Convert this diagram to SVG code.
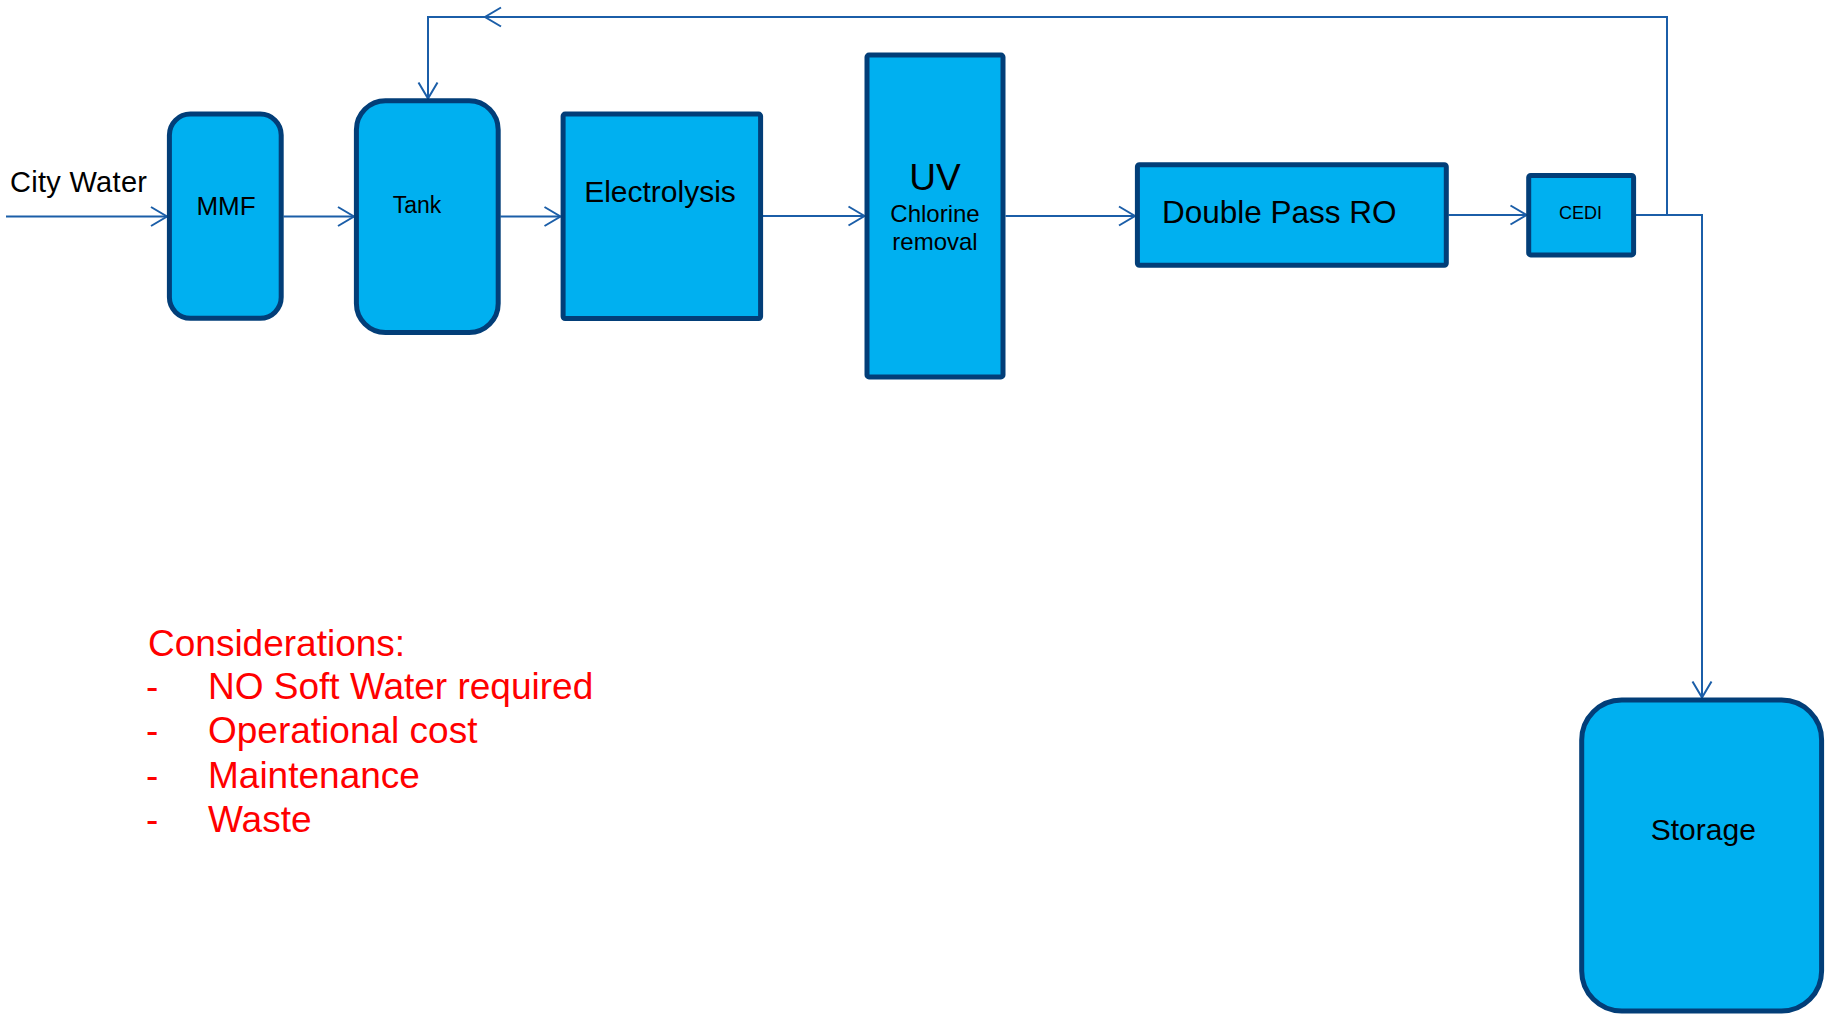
<svg xmlns="http://www.w3.org/2000/svg" width="1829" height="1015" viewBox="0 0 1829 1015">
<defs>
<marker id="arr" markerUnits="userSpaceOnUse" markerWidth="22" markerHeight="24" viewBox="-19 -12 22 24" refX="0" refY="0" orient="auto" overflow="visible">
<path d="M-16,-9.5 L0,0 L-16,9.5" fill="none" stroke="#1B5EA8" stroke-width="2"/>
</marker>
</defs>
<style>
.box{fill:#00B0F0;stroke:#023E78;stroke-width:5}
.lbl{font-family:"Liberation Sans",Arial,sans-serif;fill:#000}
.con{fill:none;stroke:#1B5EA8;stroke-width:2}
.note{font-family:"Liberation Sans",Arial,sans-serif;fill:#FF0000;font-size:37px}
</style>
<rect width="1829" height="1015" fill="#fff"/>
<g id="connectors">
<path class="con" d="M6,216.5 H167" marker-end="url(#arr)"/>
<path class="con" d="M283.5,216.5 H354" marker-end="url(#arr)"/>
<path class="con" d="M500.5,216.5 H560.5" marker-end="url(#arr)"/>
<path class="con" d="M763,216 H864.5" marker-end="url(#arr)"/>
<path class="con" d="M1005.5,216 H1135" marker-end="url(#arr)"/>
<path class="con" d="M1448.5,215 H1526.5" marker-end="url(#arr)"/>
<path class="con" d="M1636,215 H1702 V697.5" marker-end="url(#arr)"/>
<path class="con" d="M1667,215 V17 H485" marker-end="url(#arr)"/>
<path class="con" d="M485,17 H428 V98.5" marker-end="url(#arr)"/>
</g>
<text class="lbl" x="10" y="192" font-size="29" textLength="137">City Water</text>
<g id="mmf">
<rect class="box" x="169.4" y="114.1" width="111.8" height="204.2" rx="21"/>
<text class="lbl" x="226" y="215" font-size="26" text-anchor="middle">MMF</text>
</g>
<g id="tank">
<rect class="box" x="356.4" y="100.7" width="141.8" height="231.9" rx="29"/>
<text class="lbl" x="417" y="213.3" font-size="23" text-anchor="middle">Tank</text>
</g>
<g id="electrolysis">
<rect class="box" x="563.1" y="114.1" width="197.5" height="204.5" rx="2"/>
<text class="lbl" x="660" y="202" font-size="30" text-anchor="middle">Electrolysis</text>
</g>
<g id="uv">
<rect class="box" x="867" y="55.1" width="136" height="321.8" rx="2"/>
<text class="lbl" x="935" y="190" font-size="37" text-anchor="middle">UV</text>
<text class="lbl" x="935" y="221.7" font-size="24" text-anchor="middle">Chlorine</text>
<text class="lbl" x="935" y="250" font-size="24" text-anchor="middle">removal</text>
</g>
<g id="ro">
<rect class="box" x="1137.4" y="164.7" width="308.9" height="100.6" rx="2"/>
<text class="lbl" x="1162" y="223.3" font-size="31.5">Double Pass RO</text>
</g>
<g id="cedi">
<rect class="box" x="1528.7" y="175.4" width="104.9" height="79.5" rx="2"/>
<text class="lbl" x="1580.5" y="219" font-size="18" text-anchor="middle">CEDI</text>
</g>
<g id="storage">
<rect class="box" x="1581.7" y="700.1" width="239.9" height="310.8" rx="40"/>
<text class="lbl" x="1703.3" y="840" font-size="30" text-anchor="middle">Storage</text>
</g>
<g id="considerations">
<text class="note" x="148" y="655.7">Considerations:</text>
<text class="note" x="146" y="699.3">-</text>
<text class="note" x="208" y="699.3">NO Soft Water required</text>
<text class="note" x="146" y="743.3">-</text>
<text class="note" x="208" y="743.3">Operational cost</text>
<text class="note" x="146" y="788.3">-</text>
<text class="note" x="208" y="788.3">Maintenance</text>
<text class="note" x="146" y="831.7">-</text>
<text class="note" x="208" y="831.7">Waste</text>
</g>
</svg>
